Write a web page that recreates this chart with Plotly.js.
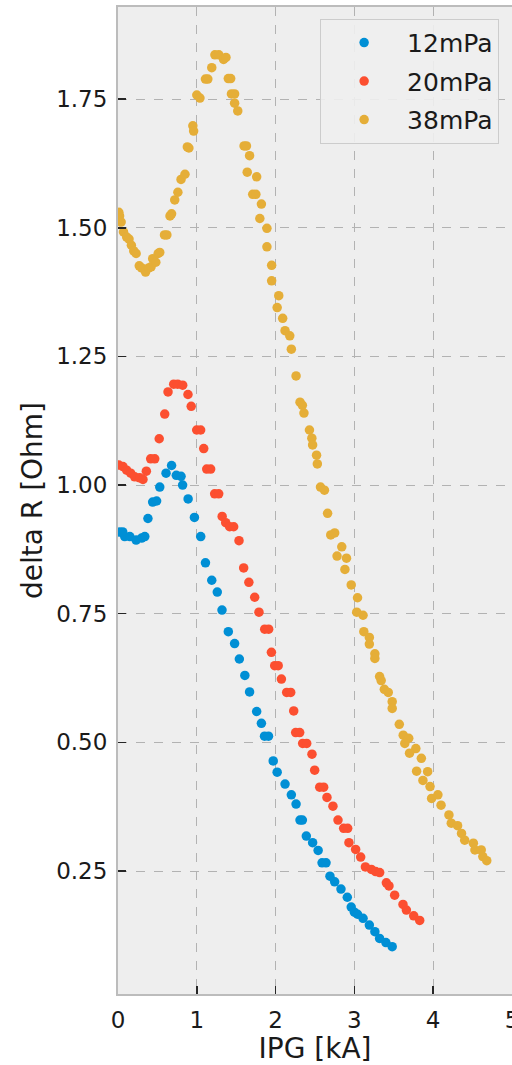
<!DOCTYPE html>
<html>
<head>
<meta charset="utf-8">
<script src="https://cdn.plot.ly/plotly-3.0.1.min.js"></script>
<style>
  html, body { margin: 0; padding: 0; background: #ffffff; }
  #chart { width: 512px; height: 1065px; }
</style>
</head>
<body>
<div id="chart"></div>
<script>
// Resistance change vs. plasma-gun current for three background pressures
const ipg12 = [0.02,0.06,0.085,0.15,0.23,0.30,0.34,0.38,0.44,0.49,0.53,0.61,0.68,0.74,0.80,0.82,0.89,0.97,1.05,1.11,1.19,1.26,1.32,1.40,1.48,1.54,1.61,1.67,1.76,1.82,1.86,1.91,1.97,2.02,2.12,2.20,2.26,2.31,2.34,2.39,2.47,2.54,2.59,2.64,2.69,2.75,2.83,2.91,2.96,3.00,3.04,3.11,3.19,3.26,3.32,3.40,3.48];
const dR12 = [0.909,0.909,0.900,0.900,0.893,0.897,0.900,0.935,0.967,0.969,0.996,1.023,1.038,1.019,1.017,1.000,0.973,0.937,0.900,0.849,0.815,0.792,0.757,0.715,0.692,0.662,0.630,0.598,0.560,0.537,0.512,0.512,0.464,0.442,0.419,0.398,0.380,0.349,0.349,0.318,0.305,0.290,0.266,0.266,0.240,0.229,0.215,0.199,0.180,0.170,0.166,0.158,0.145,0.132,0.119,0.111,0.103];

const ipg20 = [0.01,0.063,0.110,0.161,0.212,0.275,0.317,0.360,0.415,0.466,0.523,0.593,0.635,0.707,0.758,0.821,0.888,0.929,0.999,1.049,1.088,1.126,1.176,1.227,1.278,1.322,1.367,1.417,1.468,1.536,1.595,1.661,1.735,1.789,1.862,1.912,1.947,1.989,2.033,2.074,2.141,2.192,2.230,2.255,2.306,2.344,2.395,2.462,2.496,2.560,2.610,2.652,2.728,2.792,2.864,2.915,2.931,3.016,3.080,3.140,3.216,3.270,3.321,3.406,3.439,3.511,3.617,3.660,3.753,3.829];
const dR20 = [1.039,1.036,1.029,1.023,1.016,1.014,1.011,1.027,1.051,1.051,1.090,1.138,1.181,1.196,1.196,1.194,1.176,1.153,1.107,1.107,1.071,1.031,1.031,0.983,0.983,0.939,0.927,0.919,0.919,0.892,0.839,0.811,0.782,0.753,0.720,0.720,0.675,0.649,0.649,0.623,0.597,0.597,0.561,0.519,0.519,0.498,0.498,0.477,0.446,0.413,0.413,0.393,0.376,0.349,0.333,0.333,0.305,0.292,0.277,0.258,0.253,0.249,0.247,0.227,0.221,0.203,0.185,0.174,0.163,0.154];

const ipg38 = [0.01,0.02,0.04,0.07,0.11,0.14,0.17,0.20,0.23,0.27,0.30,0.35,0.39,0.42,0.44,0.48,0.51,0.53,0.59,0.62,0.66,0.68,0.72,0.76,0.80,0.85,0.88,0.90,0.95,0.96,1.00,1.04,1.11,1.14,1.19,1.23,1.28,1.34,1.37,1.40,1.43,1.44,1.48,1.48,1.52,1.60,1.63,1.67,1.64,1.76,1.71,1.75,1.82,1.80,1.89,1.89,1.95,1.95,2.04,2.02,2.09,2.12,2.18,2.20,2.26,2.31,2.34,2.36,2.43,2.46,2.47,2.52,2.53,2.57,2.62,2.66,2.70,2.75,2.84,2.78,2.90,2.88,2.96,3.04,3.03,3.11,3.12,3.19,3.19,3.26,3.26,3.32,3.34,3.38,3.43,3.48,3.48,3.57,3.62,3.69,3.64,3.78,3.70,3.85,3.79,3.93,3.87,3.96,3.98,4.06,4.10,4.20,4.23,4.31,4.36,4.40,4.51,4.53,4.61,4.63,4.68];
const dR38 = [1.530,1.523,1.511,1.492,1.482,1.478,1.466,1.455,1.450,1.426,1.422,1.414,1.422,1.424,1.440,1.433,1.450,1.452,1.486,1.486,1.523,1.527,1.554,1.569,1.594,1.604,1.657,1.655,1.698,1.688,1.758,1.752,1.789,1.789,1.811,1.836,1.836,1.827,1.831,1.790,1.790,1.760,1.760,1.742,1.727,1.659,1.659,1.640,1.608,1.599,1.565,1.565,1.546,1.518,1.499,1.463,1.427,1.397,1.368,1.345,1.324,1.300,1.290,1.264,1.212,1.161,1.155,1.140,1.107,1.091,1.078,1.058,1.041,0.996,0.990,0.945,0.903,0.907,0.880,0.862,0.858,0.836,0.806,0.781,0.753,0.747,0.715,0.704,0.691,0.672,0.663,0.628,0.620,0.603,0.597,0.579,0.566,0.535,0.514,0.508,0.498,0.488,0.479,0.469,0.444,0.443,0.426,0.414,0.391,0.398,0.378,0.359,0.343,0.338,0.323,0.310,0.304,0.291,0.291,0.278,0.270];

const seriesNames = ['12mPa', '20mPa', '38mPa'];
const seriesColors = ['#008fd5', '#fc4f30', '#e5ae38'];
const xs = [ipg12, ipg20, ipg38];
const ys = [dR12, dR20, dR38];

const traces = seriesNames.map((name, i) => ({
  type: 'scatter',
  mode: 'markers',
  name: name,
  legendgroup: name,
  x: xs[i],
  y: ys[i],
  marker: { color: seriesColors[i], size: 9.5, line: { width: 0 } }
}));

const gridStyle = {
  showgrid: true,
  gridcolor: '#b2b2b2',
  griddash: 'dash',
  gridwidth: 1,
  zeroline: false,
  showline: true,
  linecolor: '#bcbcbc',
  linewidth: 2,
  ticks: 'inside',
  ticklen: 8,
  tickwidth: 1.5,
  tickcolor: '#262626',
  ticklabeloverflow: 'allow',
  tickfont: { family: 'DejaVu Sans', size: 23, color: '#1a1a1a' }
};

const layout = {
  width: 512,
  height: 1065,
  margin: { l: 118, r: 0, t: 7, b: 71 },
  paper_bgcolor: '#ffffff',
  plot_bgcolor: '#eeeeee',
  font: { family: 'DejaVu Sans', color: '#1a1a1a' },
  showlegend: true,
  legend: {
    x: 0.513, y: 0.988, xanchor: 'left', yanchor: 'top',
    bgcolor: 'rgba(238,238,238,0.9)',
    bordercolor: '#cccccc',
    borderwidth: 1,
    font: { family: 'DejaVu Sans', size: 25, color: '#1a1a1a' },
    traceorder: 'grouped',
    tracegroupgap: 3,
    itemwidth: 76
  },
  xaxis: Object.assign({}, gridStyle, {
    range: [0, 5.0005],
    tickvals: [0, 1, 2, 3, 4, 5],
    ticktext: ['0', '1', '2', '3', '4', '5'],
    mirror: true,
    ticklabelstandoff: 4,
    title: { text: 'IPG [kA]', font: { family: 'DejaVu Sans', size: 28, color: '#1a1a1a' }, standoff: 8 }
  }),
  yaxis: Object.assign({}, gridStyle, {
    range: [0.011, 1.929],
    tickvals: [0.25, 0.5, 0.75, 1.0, 1.25, 1.5, 1.75],
    ticktext: ['0.25', '0.50', '0.75', '1.00', '1.25', '1.50', '1.75'],
    mirror: false,
    ticklabelstandoff: 4,
    title: { text: 'delta R [Ohm]', font: { family: 'DejaVu Sans', size: 28, color: '#1a1a1a' }, standoff: 5 }
  })
};

Plotly.newPlot('chart', traces, layout, { displayModeBar: false, staticPlot: true });
</script>
</body>
</html>
